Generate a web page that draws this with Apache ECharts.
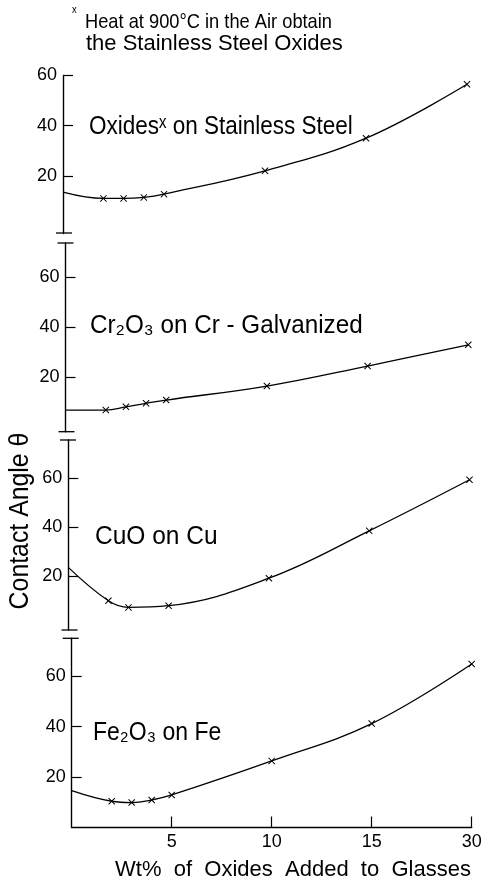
<!DOCTYPE html>
<html><head><meta charset="utf-8">
<script src="https://cdn.jsdelivr.net/npm/echarts@6/dist/echarts.min.js"></script>
<style>html,body{margin:0;padding:0;background:#fff}#c{width:486px;height:881px}</style>
</head><body><div id="c"></div>
<script>
// ---- data ----
const panelNames = ['Oxidesˣ on Stainless Steel', 'Cr₂O₃ on Cr - Galvanized', 'CuO on Cu', 'Fe₂O₃ on Fe'];
const noteLines = ['Heat at 900°C in the Air obtain', 'the Stainless Steel Oxides'];
const xAxisTitle = 'Wt%  of  Oxides  Added  to  Glasses';
const yAxisTitle = 'Contact Angle θ';
const xTickValues = [5, 10, 15, 30];
const yTickValues = [20, 40, 60];
const xStainless = [0, 2, 3, 4, 5, 10, 15, 30];
const yStainless = [13.5, 11, 11, 11.4, 12.7, 22, 35, 56.5];
const xCr = [0, 2, 3, 4, 5, 10, 15, 30];
const yCr = [6.7, 6.7, 8, 9.4, 10.7, 16.3, 24.3, 32.8];
const xCu = [0, 2, 3, 5, 10, 15, 30];
const yCu = [23.5, 9.9, 7.2, 7.9, 19.1, 38.4, 59.2];
const xFe = [0, 2, 3, 4, 5, 10, 15, 30];
const yFe = [14.6, 10.4, 9.9, 10.9, 12.9, 26.4, 41.2, 64.8];

// ---- layout ----
const SANS = '"Liberation Sans", "DejaVu Sans", sans-serif';
// broken x-scale: 15 -> 30 compressed into one 5-unit step
const tx = x => x <= 15 ? x : 15 + (x - 15) / 3;
const itx = v => v <= 15 ? v : 15 + (v - 15) * 3;

const panels = [
  {xs: xStainless, ys: yStainless, left: 63, right: 19, top: 75.5, height: 158, min: -3, max: 60},
  {xs: xCr, ys: yCr, left: 65.5, right: 17.7, top: 243, height: 188.8, min: -2, max: 73.5},
  {xs: xCu, ys: yCu, left: 68.3, right: 16.5, top: 440, height: 190, min: -2, max: 75.4},
  {xs: xFe, ys: yFe, left: 71.7, right: 14.3, top: 638.3, height: 189.2, min: 0, max: 75}
];
const labelPos = [[89, 127, 0.9], [90, 326, 0.97], [95, 537, 0.98], [93, 733, 0.92]];
const CROSS = 'path://M0,1 L1,0 L5,4 L9,0 L10,1 L6,5 L10,9 L9,10 L5,6 L1,10 L0,9 L4,5 Z';

const grid = [], xAxis = [], yAxis = [], series = [];
panels.forEach((p, i) => {
  const last = i === panels.length - 1;
  grid.push({left: p.left, right: p.right, top: p.top, height: p.height, containLabel: false});
  xAxis.push({
    type: 'value', gridIndex: i, min: 0, max: 20, show: last,
    axisLine: {show: last, lineStyle: {color: '#000', width: 1.4}},
    splitLine: {show: false},
    axisTick: {show: last, inside: true, length: 11, lineStyle: {color: '#000', width: 1.2},
      customValues: xTickValues.map(tx)},
    axisLabel: {show: last, customValues: xTickValues.map(tx), margin: 6,
      color: '#000', fontSize: 18, fontFamily: SANS,
      formatter: v => String(Math.round(itx(v)))}
  });
  yAxis.push({
    type: 'value', gridIndex: i, min: p.min, max: p.max,
    axisLine: {show: true, onZero: false, lineStyle: {color: '#000', width: 1.4}},
    splitLine: {show: false},
    axisTick: {show: true, inside: true, length: 10, lineStyle: {color: '#000', width: 1.2},
      customValues: yTickValues},
    axisLabel: {customValues: yTickValues, margin: 6, color: '#000', fontSize: 18, fontFamily: SANS}
  });
  series.push({
    type: 'line', xAxisIndex: i, yAxisIndex: i,
    smooth: 0.4,
    symbol: CROSS, symbolSize: 7,
    lineStyle: {color: '#000', width: 1.3},
    itemStyle: {color: '#000'},
    data: p.xs.map((x, k) => x === 0 ? {value: [tx(x), p.ys[k]], symbol: 'none'} : [tx(x), p.ys[k]])
  });
});

const breaks = [[64, 233], [65.5, 243], [66.5, 431.7], [68, 440], [69.5, 630], [70.7, 638.3]];
const graphic = [];
breaks.forEach(([x, y]) => graphic.push({type: 'line', shape: {x1: x - 8, y1: y, x2: x + 8, y2: y},
  style: {stroke: '#000', lineWidth: 1.3}}));
panelNames.forEach((t, i) => graphic.push({type: 'text', x: labelPos[i][0], y: labelPos[i][1],
  scaleX: labelPos[i][2],
  style: {text: t, fontSize: 25, fontFamily: SANS, fill: '#000', align: 'left', verticalAlign: 'middle'}}));
graphic.push({type: 'text', x: 72, y: 12, style: {text: 'ˣ', fontSize: 14, fontFamily: SANS, fill: '#000', align: 'left', verticalAlign: 'middle'}});
graphic.push({type: 'text', x: 85, y: 22, scaleX: 0.87, style: {text: noteLines[0], fontSize: 21, fontFamily: SANS, fill: '#000', align: 'left', verticalAlign: 'middle'}});
graphic.push({type: 'text', x: 86, y: 44, scaleX: 1.0, style: {text: noteLines[1], fontSize: 22, fontFamily: SANS, fill: '#000', align: 'left', verticalAlign: 'middle'}});
graphic.push({type: 'text', x: 21, y: 521, rotation: Math.PI / 2, scaleX: 0.92,
  style: {text: yAxisTitle, fontSize: 27, fontFamily: SANS, fill: '#000', align: 'center', verticalAlign: 'middle'}});
graphic.push({type: 'text', x: 293, y: 870,
  style: {text: xAxisTitle, fontSize: 22, fontFamily: SANS, fill: '#000', align: 'center', verticalAlign: 'middle'}});

const chart = echarts.init(document.getElementById('c'), null, {renderer: 'canvas'});
chart.setOption({backgroundColor: '#fff', animation: false, grid, xAxis, yAxis, series, graphic});
</script></body></html>
